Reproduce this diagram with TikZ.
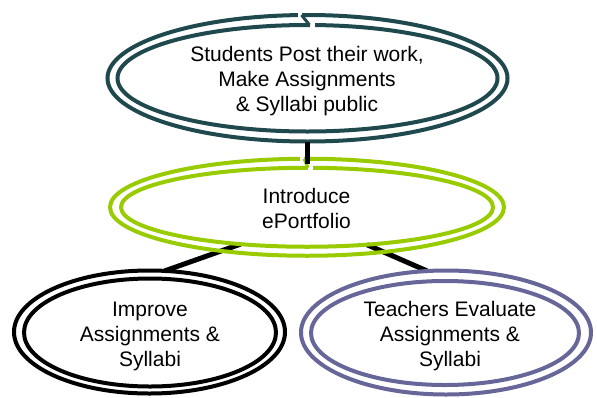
\documentclass[tikz,border=0pt]{standalone}
\usepackage{fontspec}
\setmainfont{Liberation Sans}
\usetikzlibrary{shapes.geometric,backgrounds,calc}
\definecolor{tealdark}{RGB}{31,73,77}
\definecolor{limegreen}{RGB}{153,204,0}
\definecolor{slatepurple}{RGB}{102,102,153}
\begin{document}
\begin{tikzpicture}[x=1pt,y=-1pt,
  ring/.style={ellipse, line width=4pt, inner sep=0pt, outer sep=0pt},
  txt/.style={align=center, inner sep=0pt, font=\fontsize{21}{25}\selectfont},
  link/.style={line width=5pt, black},
  cut/.style={fill=white},
  joint/.style={line width=3pt}]
\useasboundingbox (0,0) rectangle (597,397);
% top
\node[ring, draw=tealdark, minimum width=400pt, minimum height=126.5pt] (top) at (307.5,78.25) {};
\node[ring, draw=tealdark, minimum width=380pt, minimum height=106.5pt] (topin) at (307.5,78.25) {};
\node[txt] (toptxt) at (307,81) {Students Post their work,\\Make Assignments\\\& Syllabi public};
% middle
\node[ring, draw=limegreen, minimum width=394pt, minimum height=97pt] (mid) at (307,207.25) {};
\node[ring, draw=limegreen, minimum width=372pt, minimum height=79pt] (midin) at (307,207.25) {};
\node[txt] (midtxt) at (306.5,208) {Introduce\\ePortfolio};
% bottom left
\node[ring, draw=black, minimum width=271pt, minimum height=123pt] (left) at (149.5,332) {};
\node[ring, draw=black, minimum width=252pt, minimum height=108pt] (leftin) at (150,332.5) {};
\node[txt] (lefttxt) at (150,336) {Improve\\Assignments \&\\Syllabi};
% bottom right
\node[ring, draw=slatepurple, minimum width=290pt, minimum height=124pt] (right) at (446,332.5) {};
\node[ring, draw=slatepurple, minimum width=268pt, minimum height=104pt] (rightin) at (445,333) {};
\node[txt] (righttxt) at (450,336) {Teachers Evaluate\\Assignments \&\\Syllabi};
% joints where the double outline starts
\fill[cut] ($(top.north)+(-10,-3)$) rectangle ($(top.north)+(-6,3)$);
\fill[cut] ($(topin.north)+(2,-3)$) rectangle ($(topin.north)+(7,3)$);
\draw[joint, tealdark] ($(top.north)+(-6,0)$) -- ($(topin.north)+(2,0)$);
\fill[cut] ($(mid.north)+(-7,-3)$) rectangle ($(mid.north)+(-3,3)$);
\fill[cut] ($(midin.north)+(1,-3)$) rectangle ($(midin.north)+(6,3)$);
\draw[joint, limegreen] ($(mid.north)+(-3,0)$) -- ($(midin.north)+(1,0)$);
% connectors
\begin{scope}[on background layer]
\fill[white] (0,0) rectangle (597,397);
\draw[link] (midin.209) -- (left.76);
\draw[link] (midin.-32) -- (right.107);
\end{scope}
\draw[link, line width=4.5pt] (top.south) -- ($(top.south |- mid.north)+(0,5)$);
\end{tikzpicture}
\end{document}
